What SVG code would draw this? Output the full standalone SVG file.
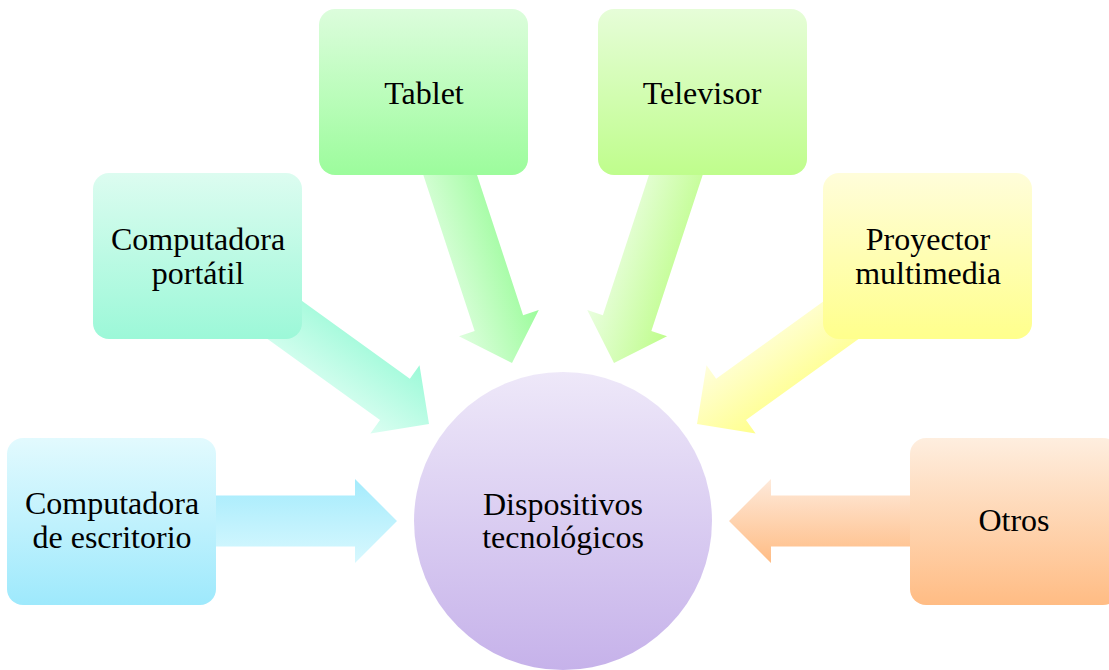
<svg xmlns="http://www.w3.org/2000/svg" width="1109" height="670" viewBox="0 0 1109 670">
<defs>
<linearGradient id="gBlue" x1="0" y1="0" x2="0" y2="1"><stop offset="0" stop-color="#e2fafe"/><stop offset="1" stop-color="#9ee9fc"/></linearGradient>
<linearGradient id="gTeal" x1="0" y1="0" x2="0" y2="1"><stop offset="0" stop-color="#dcfcf0"/><stop offset="1" stop-color="#9cf8d8"/></linearGradient>
<linearGradient id="gGreen" x1="0" y1="0" x2="0" y2="1"><stop offset="0" stop-color="#dcfddc"/><stop offset="1" stop-color="#9cfc9c"/></linearGradient>
<linearGradient id="gLime" x1="0" y1="0" x2="0" y2="1"><stop offset="0" stop-color="#e6fdd8"/><stop offset="1" stop-color="#bffd8c"/></linearGradient>
<linearGradient id="gYellow" x1="0" y1="0" x2="0" y2="1"><stop offset="0" stop-color="#fffdda"/><stop offset="1" stop-color="#ffff8c"/></linearGradient>
<linearGradient id="gOrange" x1="0" y1="0" x2="0" y2="1"><stop offset="0" stop-color="#feeedf"/><stop offset="1" stop-color="#ffbc84"/></linearGradient>
<linearGradient id="gPurple" x1="0" y1="0" x2="0" y2="1"><stop offset="0" stop-color="#eee8f9"/><stop offset="1" stop-color="#c6b2ea"/></linearGradient>
<linearGradient id="aBlue" x1="0" y1="0" x2="0" y2="1"><stop offset="0" stop-color="#a4ebfc"/><stop offset="1" stop-color="#d8f8fe"/></linearGradient>
<linearGradient id="aTeal" x1="0" y1="0" x2="0" y2="1"><stop offset="0" stop-color="#9cfad8"/><stop offset="1" stop-color="#dcfef2"/></linearGradient>
<linearGradient id="aGreen" x1="0" y1="0" x2="0" y2="1"><stop offset="0" stop-color="#9cfc9c"/><stop offset="1" stop-color="#defede"/></linearGradient>
<linearGradient id="aLime" x1="0" y1="0" x2="0" y2="1"><stop offset="0" stop-color="#bffd8c"/><stop offset="1" stop-color="#eafee0"/></linearGradient>
<linearGradient id="aYellow" x1="0" y1="0" x2="0" y2="1"><stop offset="0" stop-color="#ffff8c"/><stop offset="1" stop-color="#fffedc"/></linearGradient>
<linearGradient id="aOrange" x1="0" y1="0" x2="0" y2="1"><stop offset="0" stop-color="#ffbc84"/><stop offset="1" stop-color="#feeadb"/></linearGradient>
<path id="arrowShape" d="M0,0 L-42,-42 L-42,-25.5 L-215,-25.5 L-215,25.5 L-42,25.5 L-42,42 Z"/>
</defs>
<style>
text{font-family:"Liberation Serif","Times New Roman",serif;font-size:32px;fill:#000;text-anchor:middle}
.box{stroke:none}
</style>
<rect width="1109" height="670" fill="#ffffff"/>
<g id="connectors">
<use href="#arrowShape" fill="url(#aBlue)" transform="translate(397,521)"/>
<use href="#arrowShape" fill="url(#aTeal)" transform="translate(429,424) rotate(35.8)"/>
<use href="#arrowShape" fill="url(#aGreen)" transform="translate(512,363) rotate(71.8)"/>
<use href="#arrowShape" fill="url(#aLime)" transform="translate(614,363) rotate(108.2)"/>
<use href="#arrowShape" fill="url(#aYellow)" transform="translate(697,424) rotate(144.2)"/>
<use href="#arrowShape" fill="url(#aOrange)" transform="translate(729,521) rotate(180)"/>
</g>
<g id="node-escritorio">
<rect class="box" x="7" y="438" width="209" height="167" rx="16" fill="url(#gBlue)"/>
<text x="112" y="514">Computadora</text>
<text x="112" y="548">de escritorio</text>
</g>
<g id="node-portatil">
<rect class="box" x="93" y="173" width="209" height="166" rx="16" fill="url(#gTeal)"/>
<text x="198" y="250">Computadora</text>
<text x="198" y="284">portátil</text>
</g>
<g id="node-tablet">
<rect class="box" x="319" y="9" width="209" height="166" rx="16" fill="url(#gGreen)"/>
<text x="424" y="104">Tablet</text>
</g>
<g id="node-televisor">
<rect class="box" x="598" y="9" width="209" height="166" rx="16" fill="url(#gLime)"/>
<text x="702" y="104">Televisor</text>
</g>
<g id="node-proyector">
<rect class="box" x="823" y="173" width="209" height="166" rx="16" fill="url(#gYellow)"/>
<text x="928" y="250">Proyector</text>
<text x="928" y="284">multimedia</text>
</g>
<g id="node-otros">
<rect class="box" x="910" y="438" width="209" height="167" rx="16" fill="url(#gOrange)"/>
<text x="1014" y="531">Otros</text>
</g>
<g id="node-centro">
<circle cx="563" cy="521" r="149" fill="url(#gPurple)"/>
<text x="563" y="515">Dispositivos</text>
<text x="563" y="548">tecnológicos</text>
</g>
</svg>
